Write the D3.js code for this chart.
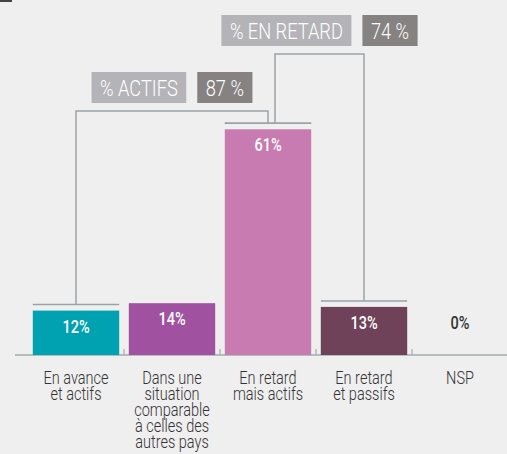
<!DOCTYPE html>
<html lang="fr">
<head>
<meta charset="utf-8">
<script src="https://d3js.org/d3.v7.min.js"></script>
<style>
  html, body { margin: 0; padding: 0; background: #efefef; }
  svg { display: block; font-family: "Roboto", "Liberation Sans", sans-serif; }
</style>
</head>
<body>
<script>
const categories = [
  ["En avance", "et actifs"],
  ["Dans une", "situation", "comparable", "à celles des", "autres pays"],
  ["En retard", "mais actifs"],
  ["En retard", "et passifs"],
  ["NSP"]
];
const values = [12, 14, 61, 13, 0];
const barColors = ["#00a1b0", "#a052a0", "#c77bb1", "#704259", "none"];
const groupLabels = ["% ACTIFS", "% EN RETARD"];
const groupTotals = ["87 %", "74 %"];
const groupMembers = [[0, 2], [2, 3]];

const width = 507, height = 454;
const LINE = "#9aa3a8";
const SX = 0.83; // horizontal squeeze to imitate the condensed face

const svg = d3.select("body").append("svg")
  .attr("width", width)
  .attr("height", height);

svg.append("rect").attr("x", 0).attr("y", 0).attr("width", 12).attr("height", 2).attr("fill", "#444");

// condensed text helper: returns the text selection, placed at (cx, cy)
function ctext(parent, cx, cy) {
  return parent.append("g")
    .attr("transform", `translate(${cx},${cy}) scale(${SX},1)`)
    .append("text");
}

const x = d3.scaleBand()
  .domain(d3.range(values.length))
  .range([28, 508])
  .paddingInner(0.1)
  .paddingOuter(0.05);

const y = d3.scaleLinear().domain([0, 100]).range([355, -15]);

// baseline and separator ticks
svg.append("line")
  .attr("x1", 15).attr("x2", width)
  .attr("y1", y(0)).attr("y2", y(0))
  .attr("stroke", "#a3abae").attr("stroke-width", 1.5);

d3.range(1, values.length).forEach(i => {
  const xs = x(i) - x.step() * x.paddingInner() / 2;
  svg.append("line")
    .attr("x1", xs).attr("x2", xs)
    .attr("y1", y(0) - 6).attr("y2", y(0))
    .attr("stroke", "#a3abae").attr("stroke-width", 1.2);
});

// bars
svg.selectAll("rect.bar")
  .data(values)
  .join("rect")
  .attr("class", "bar")
  .attr("x", (d, i) => x(i))
  .attr("y", d => y(d))
  .attr("width", x.bandwidth())
  .attr("height", d => y(0) - y(d))
  .attr("fill", (d, i) => barColors[i]);

values.forEach((d, i) => {
  ctext(svg, x(i) + x.bandwidth() / 2, d > 0 ? y(d) + 22 : y(0) - 26)
    .attr("text-anchor", "middle")
    .attr("font-size", 17.5)
    .attr("font-weight", 500)
    .attr("fill", d > 0 ? "#fff" : "#333")
    .text(d + "%");
});

// category labels
categories.forEach((lines, i) => {
  lines.forEach((l, k) => {
    ctext(svg, x(i) + x.bandwidth() / 2, 384 + k * 16)
      .attr("text-anchor", "middle")
      .attr("font-size", 17.5)
      .attr("font-weight", 300)
      .attr("fill", "#333")
      .text(l);
  });
});

// lines above member bars
const bracketTop = [111, 54];
const startOffset = [0, 7];
groupMembers.forEach(m => {
  m.forEach(i => {
    svg.append("line")
      .attr("x1", x(i)).attr("x2", x(i) + x.bandwidth())
      .attr("y1", y(values[i]) - 6).attr("y2", y(values[i]) - 6)
      .attr("stroke", LINE).attr("stroke-width", 1.5);
  });
});

// group brackets and label boxes
groupMembers.forEach((m, g) => {
  const x1 = x(m[0]) + x.bandwidth() / 2 + startOffset[g];
  const x2 = x(m[1]) + x.bandwidth() / 2;
  const top = bracketTop[g];
  svg.append("path")
    .attr("d", `M${x1},${y(values[m[0]]) - 6}V${top}H${x2}V${y(values[m[1]]) - 6}`)
    .attr("fill", "none")
    .attr("stroke", LINE)
    .attr("stroke-width", 1.5);

  const boxH = 31, pad = 8.5, gap = 11;
  const gEl = svg.append("g");
  const r1 = gEl.append("rect").attr("fill", "#b4b4b8");
  const r2 = gEl.append("rect").attr("fill", "#868282");
  const t1 = ctext(gEl, 0, 0).attr("font-size", 22).attr("font-weight", 300).attr("fill", "#fff").text(groupLabels[g]);
  const t2 = ctext(gEl, 0, 0).attr("font-size", 22).attr("font-weight", 300).attr("fill", "#fff").text(groupTotals[g]);
  const w1 = t1.node().getComputedTextLength() * SX + pad * 2;
  const w2 = t2.node().getComputedTextLength() * SX + pad * 2;
  const total = w1 + gap + w2;
  const left = (x1 + x2) / 2 - total / 2;
  const boxY = top - 8 - boxH;
  r1.attr("x", left).attr("y", boxY).attr("width", w1).attr("height", boxH);
  r2.attr("x", left + w1 + gap).attr("y", boxY).attr("width", w2).attr("height", boxH);
  d3.select(t1.node().parentNode).attr("transform", `translate(${left + pad},${boxY + 23.5}) scale(${SX},1)`);
  d3.select(t2.node().parentNode).attr("transform", `translate(${left + w1 + gap + pad},${boxY + 23.5}) scale(${SX},1)`);
});
</script>
</body>
</html>
